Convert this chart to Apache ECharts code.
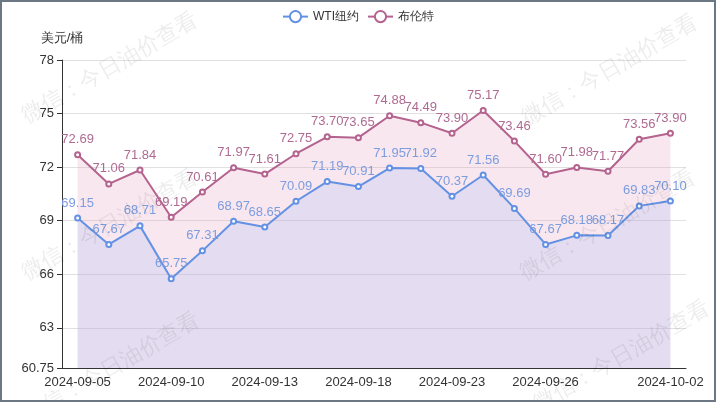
<!DOCTYPE html>
<html>
<head>
<meta charset="utf-8">
<script src="https://cdn.jsdelivr.net/npm/echarts@6/dist/echarts.min.js"></script>
<style>
html,body{margin:0;padding:0;background:#fff;}
#wrap{position:relative;width:716px;height:402px;}
#chart{position:absolute;left:0;top:0;width:716px;height:402px;}
#frame{position:absolute;left:0;top:0;width:716px;height:402px;box-sizing:border-box;border:2px solid #6b7782;pointer-events:none;}
</style>
</head>
<body>
<div id="wrap"><div id="chart"></div><div id="frame"></div></div>
<script>
const dates = ['2024-09-05','2024-09-06','2024-09-09','2024-09-10','2024-09-11','2024-09-12','2024-09-13','2024-09-16','2024-09-17','2024-09-18','2024-09-19','2024-09-20','2024-09-23','2024-09-24','2024-09-25','2024-09-26','2024-09-27','2024-09-30','2024-10-01','2024-10-02'];
const wti = [69.15,67.67,68.71,65.75,67.31,68.97,68.65,70.09,71.19,70.91,71.95,71.92,70.37,71.56,69.69,67.67,68.18,68.17,69.83,70.10];
const brent = [72.69,71.06,71.84,69.19,70.61,71.97,71.61,72.75,73.70,73.65,74.88,74.49,73.90,75.17,73.46,71.60,71.98,71.77,73.56,73.90];
const yTicks = [60.75,63,66,69,72,75,78];
const seriesNames = ['WTI纽约','布伦特'];
const yName = '美元/桶';
const watermark = '微信：今日油价查看';

const wmPos = [[110,68],[110,225],[112,368],[610,70],[608,225],[622,356]];
const chart = echarts.init(document.getElementById('chart'));
chart.setOption({
  animation:false,
  textStyle:{fontFamily:'sans-serif'},
  legend:{top:5,data:seriesNames,textStyle:{color:'#333',fontSize:12}},
  grid:{left:62,right:30,top:60,bottom:34,containLabel:false},
  xAxis:{
    type:'category',data:dates,boundaryGap:true,
    axisLine:{lineStyle:{color:'#333'}},
    axisTick:{interval:function(i){return i%3===0;},lineStyle:{color:'#333'}},
    axisLabel:{color:'#333',fontSize:13,interval:function(i){return (i%3===0 && i<18)||i===19;}}
  },
  yAxis:{
    type:'value',min:yTicks[0],max:yTicks[yTicks.length-1],name:yName,
    nameTextStyle:{color:'#333',fontSize:13},
    axisLine:{show:true,lineStyle:{color:'#333'}},
    axisTick:{show:true,customValues:yTicks,lineStyle:{color:'#333'}},
    axisLabel:{color:'#333',fontSize:13,customValues:yTicks,formatter:function(v){return String(v);}},
    splitLine:{lineStyle:{color:'#e0e0e0'}}
  },
  series:[
    {name:seriesNames[0],type:'line',data:wti,symbol:'emptyCircle',symbolSize:5,
     itemStyle:{color:'#6391e4'},lineStyle:{width:2,color:'#6391e4'},
     areaStyle:{color:'rgba(135,193,255,0.34)'},
     label:{show:true,position:'top',color:'#7b9de0',fontSize:13,formatter:function(p){return p.value.toFixed(2);}}},
    {name:seriesNames[1],type:'line',data:brent,symbol:'emptyCircle',symbolSize:5,
     itemStyle:{color:'#b4628e'},lineStyle:{width:2,color:'#b4628e'},
     areaStyle:{color:'rgba(232,160,196,0.36)'},
     label:{show:true,position:'top',color:'#b06a92',fontSize:13,formatter:function(p){return p.value.toFixed(2);}}}
  ],
  graphic: wmPos.map(p=>({type:'text',x:p[0],y:p[1],rotation:Math.PI/6,z:100,silent:true,
    style:{text:watermark,fill:'rgba(0,0,0,0.075)',font:'22px sans-serif',align:'center',verticalAlign:'middle'}}))
});
</script>
</body>
</html>
